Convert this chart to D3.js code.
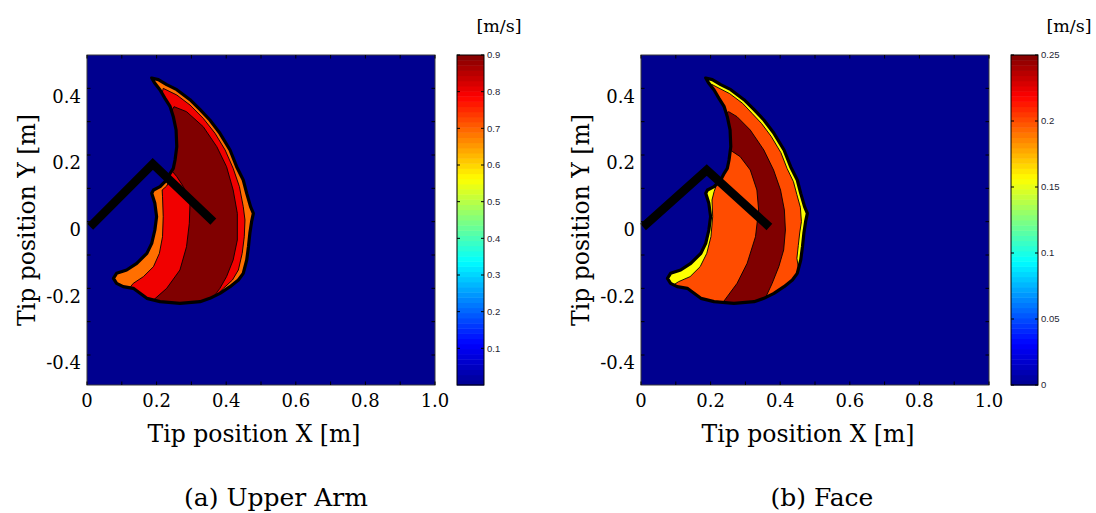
<!DOCTYPE html>
<html>
<head>
<meta charset="utf-8">
<script src="https://cdn.jsdelivr.net/npm/d3@7"></script>
<style>
  html, body { margin: 0; padding: 0; background: #fff; }
  svg { display: block; }
</style>
</head>
<body>
<svg id="chart" width="1096" height="513"></svg>
<script>
// ---------------------------------------------------------------------------
// Data (metres, m/s)
// ---------------------------------------------------------------------------

// Reachable workspace of the arm tip: outer boundary [x, y]
const workspace = [
  [0.186, 0.431], [0.205, 0.426], [0.229, 0.411], [0.258, 0.396], [0.296, 0.366],
  [0.325, 0.336], [0.353, 0.305], [0.382, 0.265], [0.411, 0.215], [0.430, 0.165],
  [0.449, 0.125], [0.459, 0.085], [0.470, 0.045], [0.478, 0.025], [0.473, 0.000],
  [0.468, -0.035], [0.464, -0.075], [0.459, -0.115], [0.449, -0.155], [0.435, -0.175],
  [0.411, -0.195], [0.382, -0.215], [0.353, -0.230], [0.325, -0.240], [0.267, -0.245],
  [0.210, -0.240], [0.172, -0.230], [0.133, -0.200], [0.104, -0.195], [0.085, -0.185],
  [0.076, -0.170], [0.085, -0.155], [0.114, -0.145], [0.143, -0.125], [0.172, -0.095],
  [0.186, -0.065], [0.195, -0.025], [0.200, 0.015], [0.195, 0.055], [0.186, 0.085],
  [0.191, 0.095], [0.210, 0.105], [0.219, 0.115], [0.229, 0.125], [0.239, 0.145],
  [0.248, 0.160], [0.253, 0.185], [0.258, 0.225], [0.256, 0.275], [0.248, 0.315],
  [0.239, 0.345], [0.224, 0.370], [0.210, 0.395], [0.195, 0.415]
];

// Upper arm: speed bands (the lowest band fills the whole workspace)
const upperArmLevels = [0.69, 0.80, 0.90];
const upperArmMid = [
  [0.219, 0.400], [0.258, 0.380], [0.296, 0.350], [0.334, 0.310], [0.368, 0.265],
  [0.397, 0.215], [0.420, 0.160], [0.438, 0.105], [0.449, 0.045], [0.454, 0.005],
  [0.452, -0.045], [0.446, -0.095], [0.435, -0.145], [0.418, -0.175], [0.392, -0.200],
  [0.363, -0.230], [0.360, -0.270], [0.120, -0.270], [0.119, -0.203], [0.133, -0.185],
  [0.162, -0.165], [0.191, -0.135], [0.208, -0.095], [0.217, -0.045], [0.219, 0.015],
  [0.217, 0.075], [0.216, 0.095], [0.229, 0.107], [0.240, 0.130], [0.235, 0.160],
  [0.240, 0.195], [0.243, 0.225], [0.240, 0.275], [0.232, 0.315], [0.225, 0.345],
  [0.214, 0.375]
];
const upperArmHigh = [
  [0.250, 0.345], [0.286, 0.330], [0.334, 0.285], [0.373, 0.225], [0.401, 0.165],
  [0.420, 0.095], [0.432, 0.025], [0.432, -0.055], [0.420, -0.115], [0.401, -0.165],
  [0.382, -0.200], [0.363, -0.227], [0.355, -0.270], [0.185, -0.270], [0.191, -0.235],
  [0.229, -0.200], [0.267, -0.145], [0.286, -0.075], [0.294, -0.005], [0.296, 0.055],
  [0.277, 0.105], [0.258, 0.135], [0.238, 0.160], [0.241, 0.195], [0.244, 0.225],
  [0.241, 0.275], [0.234, 0.315]
];
const upperArmPose = [[0.009, -0.015], [0.189, 0.173], [0.363, 0.000]];

// Face: speed bands (the lowest band fills the whole workspace)
const faceLevels = [0.156, 0.200, 0.250];
const faceMid = [
  [0.203, 0.412], [0.227, 0.399], [0.255, 0.384], [0.292, 0.355], [0.319, 0.325],
  [0.346, 0.295], [0.374, 0.256], [0.402, 0.207], [0.420, 0.159], [0.438, 0.120],
  [0.448, 0.081], [0.458, 0.043], [0.461, 0.000], [0.456, -0.034], [0.452, -0.072],
  [0.448, -0.110], [0.455, -0.155], [0.442, -0.178], [0.416, -0.200], [0.386, -0.222],
  [0.358, -0.240], [0.345, -0.270], [0.090, -0.270], [0.086, -0.196],
  [0.093, -0.190], [0.108, -0.180], [0.141, -0.165], [0.170, -0.135], [0.189, -0.095],
  [0.201, -0.045], [0.206, 0.015], [0.204, 0.065], [0.210, 0.090], [0.215, 0.105],
  [0.228, 0.120], [0.236, 0.140], [0.235, 0.160], [0.240, 0.185], [0.243, 0.225],
  [0.240, 0.275], [0.232, 0.315], [0.222, 0.345], [0.214, 0.370], [0.204, 0.392]
];
const faceHigh = [
  [0.252, 0.330], [0.276, 0.315], [0.314, 0.275], [0.353, 0.215], [0.381, 0.155],
  [0.401, 0.095], [0.412, 0.035], [0.415, -0.025], [0.410, -0.085], [0.396, -0.135],
  [0.377, -0.185], [0.357, -0.230], [0.350, -0.270], [0.232, -0.270], [0.237, -0.240],
  [0.276, -0.185], [0.305, -0.125], [0.329, -0.045], [0.338, 0.035], [0.333, 0.095],
  [0.314, 0.155], [0.285, 0.195], [0.256, 0.215], [0.240, 0.225], [0.238, 0.275],
  [0.235, 0.320]
];
const facePose = [[0.006, -0.016], [0.189, 0.155], [0.369, -0.016]];

// Axis ticks
const xTickValues = [0, 0.2, 0.4, 0.6, 0.8, 1.0];
const xTickLabels = ["0", "0.2", "0.4", "0.6", "0.8", "1.0"];
const yTickValues = [0.4, 0.2, 0, -0.2, -0.4];
const yTickLabels = ["0.4", "0.2", "0", "-0.2", "-0.4"];
const xMinorTicks = [0, 0.1, 0.2, 0.3, 0.4, 0.5, 0.6, 0.7, 0.8, 0.9, 1.0];
const yMinorTicks = [-0.4, -0.3, -0.2, -0.1, 0, 0.1, 0.2, 0.3, 0.4];

// Colour-bar ticks
const upperArmBarMax = 0.9;
const upperArmBarTicks = [0.1, 0.2, 0.3, 0.4, 0.5, 0.6, 0.7, 0.8, 0.9];
const upperArmBarLabels = ["0.1", "0.2", "0.3", "0.4", "0.5", "0.6", "0.7", "0.8", "0.9"];
const faceBarMax = 0.25;
const faceBarTicks = [0, 0.05, 0.1, 0.15, 0.2, 0.25];
const faceBarLabels = ["0", "0.05", "0.1", "0.15", "0.2", "0.25"];

// ---------------------------------------------------------------------------
// Drawing
// ---------------------------------------------------------------------------
const serif = "'DejaVu Serif', 'Liberation Serif', serif";
const sans = "'Liberation Sans', Arial, sans-serif";

// MATLAB-style jet colour map on [0, 1]
const jetStops = [[0, "#00008f"], [0.125, "#0000ff"], [0.375, "#00ffff"],
                  [0.625, "#ffff00"], [0.875, "#ff0000"], [1, "#800000"]];
const jet = d3.scaleLinear()
  .domain(jetStops.map(d => d[0]))
  .range(jetStops.map(d => d[1]))
  .interpolate(d3.interpolateRgb)
  .clamp(true);

const panels = [
  {
    key: "upper", left: 87, caption: "(a) Upper Arm", captionX: 276, unitX: 499,
    levels: upperArmLevels, bands: [workspace, upperArmMid, upperArmHigh],
    pose: upperArmPose, barMax: upperArmBarMax, barTicks: upperArmBarTicks,
    barLabels: upperArmBarLabels
  },
  {
    key: "face", left: 641, caption: "(b) Face", captionX: 822, unitX: 1069,
    levels: faceLevels, bands: [workspace, faceMid, faceHigh],
    pose: facePose, barMax: faceBarMax, barTicks: faceBarTicks,
    barLabels: faceBarLabels
  }
];

const svg = d3.select("#chart");
const plotW = 348, plotTop = 55, plotBottom = 385;
const barOffset = 370, barW = 27;

panels.forEach(p => {
  const g = svg.append("g").attr("transform", `translate(${p.left},0)`);
  const x = d3.scaleLinear().domain([0, 1]).range([0, plotW]);
  const y = d3.scaleLinear().domain([-0.49, 0.5]).range([plotBottom, plotTop]);
  const color = d3.scaleLinear().domain([0, p.barMax]).range([0, 1]);
  const area = d3.line().x(d => x(d[0])).y(d => y(d[1])).curve(d3.curveLinearClosed);

  // background (zero speed)
  g.append("rect")
    .attr("x", 0).attr("y", plotTop)
    .attr("width", plotW).attr("height", plotBottom - plotTop)
    .attr("fill", jet(color(0)));

  // clip to the workspace
  const clipId = `ws-${p.key}`;
  g.append("clipPath").attr("id", clipId)
    .append("path").attr("d", area(workspace));

  const bands = g.append("g").attr("clip-path", `url(#${clipId})`);
  bands.selectAll("path")
    .data(p.bands)
    .join("path")
    .attr("d", d => area(d))
    .attr("fill", (d, i) => jet(color(p.levels[i])))
    .attr("stroke", "#000")
    .attr("stroke-width", 0.9)
    .attr("stroke-linejoin", "round");

  // workspace outline
  g.append("path")
    .attr("d", area(workspace))
    .attr("fill", "none")
    .attr("stroke", "#000")
    .attr("stroke-width", 3.2)
    .attr("stroke-linejoin", "round");

  // arm links
  g.append("path")
    .attr("d", d3.line().x(d => x(d[0])).y(d => y(d[1]))(p.pose))
    .attr("fill", "none")
    .attr("stroke", "#000")
    .attr("stroke-width", 8.5)
    .attr("stroke-linejoin", "miter")
    .attr("stroke-linecap", "butt");

  // frame
  g.append("rect")
    .attr("x", 0).attr("y", plotTop)
    .attr("width", plotW).attr("height", plotBottom - plotTop)
    .attr("fill", "none").attr("stroke", "#3a3a3a").attr("stroke-width", 1);

  // inward ticks on all four sides
  const tk = 3.5;
  const ticks = g.append("g").attr("stroke", "#000").attr("stroke-width", 1);
  xMinorTicks.forEach(v => {
    ticks.append("line").attr("x1", x(v)).attr("x2", x(v)).attr("y1", plotBottom).attr("y2", plotBottom - tk);
    ticks.append("line").attr("x1", x(v)).attr("x2", x(v)).attr("y1", plotTop).attr("y2", plotTop + tk);
  });
  yMinorTicks.forEach(v => {
    ticks.append("line").attr("x1", 0).attr("x2", tk).attr("y1", y(v)).attr("y2", y(v));
    ticks.append("line").attr("x1", plotW).attr("x2", plotW - tk).attr("y1", y(v)).attr("y2", y(v));
  });

  // tick labels
  g.append("g").selectAll("text")
    .data(xTickValues)
    .join("text")
    .attr("x", d => x(d))
    .attr("y", 407)
    .attr("text-anchor", "middle")
    .attr("font-family", serif)
    .attr("font-size", 18)
    .attr("fill", "#000")
    .text((d, i) => xTickLabels[i]);

  g.append("g").selectAll("text")
    .data(yTickValues)
    .join("text")
    .attr("x", -6)
    .attr("y", d => y(d) + 8)
    .attr("dy", "0.36em")
    .attr("text-anchor", "end")
    .attr("font-family", serif)
    .attr("font-size", 18)
    .attr("fill", "#000")
    .text((d, i) => yTickLabels[i]);

  // axis titles
  g.append("text")
    .attr("x", x(0.5) - 7).attr("y", 442)
    .attr("text-anchor", "middle")
    .attr("font-family", serif).attr("font-size", 23.5)
    .text("Tip position X [m]");

  g.append("text")
    .attr("transform", `translate(-52, ${(plotTop + plotBottom) / 2}) rotate(-90)`)
    .attr("text-anchor", "middle")
    .attr("font-family", serif).attr("font-size", 23.5)
    .text("Tip position Y [m]");

  // colour bar
  const bar = g.append("g").attr("transform", `translate(${barOffset},0)`);
  const yb = d3.scaleLinear().domain([0, p.barMax]).range([plotBottom, plotTop]);
  const steps = d3.range(64);
  const stepH = (plotBottom - plotTop) / steps.length;
  bar.selectAll("rect.step")
    .data(steps)
    .join("rect")
    .attr("class", "step")
    .attr("x", 0)
    .attr("y", i => plotBottom - (i + 1) * stepH)
    .attr("width", barW)
    .attr("height", stepH + 0.5)
    .attr("fill", i => jet((i + 0.5) / steps.length));
  bar.append("rect")
    .attr("x", 0).attr("y", plotTop)
    .attr("width", barW).attr("height", plotBottom - plotTop)
    .attr("fill", "none").attr("stroke", "#000").attr("stroke-width", 1);

  const bt = bar.append("g").attr("stroke", "#000").attr("stroke-width", 1);
  p.barTicks.forEach(v => {
    bt.append("line").attr("x1", 0).attr("x2", 3).attr("y1", yb(v)).attr("y2", yb(v));
    bt.append("line").attr("x1", barW).attr("x2", barW - 3).attr("y1", yb(v)).attr("y2", yb(v));
  });
  bar.append("g").selectAll("text")
    .data(p.barTicks)
    .join("text")
    .attr("x", barW + 3)
    .attr("y", d => yb(d))
    .attr("dy", "0.35em")
    .attr("font-family", sans)
    .attr("font-size", 9.5)
    .attr("fill", "#1e1e33")
    .text((d, i) => p.barLabels[i]);

  // unit label
  svg.append("text")
    .attr("x", p.unitX).attr("y", 32)
    .attr("text-anchor", "middle")
    .attr("font-family", serif).attr("font-size", 17.5)
    .text("[m/s]");

  // caption
  svg.append("text")
    .attr("x", p.captionX).attr("y", 506)
    .attr("text-anchor", "middle")
    .attr("font-family", serif).attr("font-size", 25)
    .text(p.caption);
});
</script>
</body>
</html>
